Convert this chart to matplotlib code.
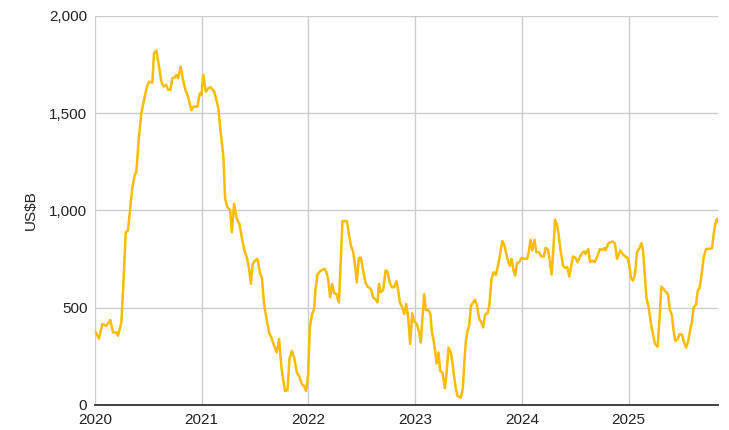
import matplotlib.pyplot as plt
import matplotlib.ticker as mticker

# time as fractional years since 2020, values in US$B
years_since_2020 = [
    0.007, 0.037, 0.068, 0.106, 0.143, 0.169, 0.200, 0.216, 0.247, 0.269,
    0.288, 0.309, 0.331, 0.350, 0.372, 0.387, 0.412, 0.434, 0.466, 0.487,
    0.506, 0.537, 0.553, 0.575, 0.600, 0.622, 0.644, 0.668, 0.684, 0.706,
    0.725, 0.747, 0.762, 0.778, 0.803, 0.825, 0.847, 0.872, 0.903, 0.925,
    0.959, 0.982, 0.997, 1.015, 1.038, 1.062, 1.085, 1.116, 1.134, 1.156,
    1.172, 1.203, 1.219, 1.240, 1.266, 1.282, 1.303, 1.328, 1.353, 1.375,
    1.400, 1.422, 1.444, 1.460, 1.478, 1.500, 1.522, 1.547, 1.563, 1.584,
    1.610, 1.631, 1.657, 1.678, 1.703, 1.725, 1.747, 1.765, 1.781, 1.803,
    1.822, 1.844, 1.866, 1.891, 1.912, 1.938, 1.959, 1.978, 1.997, 2.013,
    2.034, 2.053, 2.065, 2.084, 2.107, 2.128, 2.153, 2.168, 2.184, 2.203,
    2.222, 2.241, 2.262, 2.285, 2.303, 2.318, 2.341, 2.360, 2.378, 2.397,
    2.419, 2.435, 2.453, 2.472, 2.491, 2.512, 2.534, 2.553, 2.575, 2.590,
    2.606, 2.632, 2.647, 2.660, 2.678, 2.700, 2.722, 2.740, 2.763, 2.784,
    2.803, 2.825, 2.841, 2.856, 2.878, 2.897, 2.916, 2.934, 2.953, 2.972,
    2.991, 3.016, 3.037, 3.053, 3.068, 3.084, 3.100, 3.122, 3.141, 3.157,
    3.172, 3.187, 3.200, 3.218, 3.234, 3.256, 3.278, 3.293, 3.312, 3.335,
    3.350, 3.366, 3.382, 3.396, 3.412, 3.428, 3.447, 3.459, 3.475, 3.490,
    3.506, 3.522, 3.537, 3.560, 3.578, 3.600, 3.616, 3.637, 3.656, 3.678,
    3.694, 3.715, 3.734, 3.756, 3.772, 3.787, 3.803, 3.818, 3.834, 3.853,
    3.872, 3.888, 3.903, 3.921, 3.937, 3.953, 3.975, 3.997, 4.022, 4.050,
    4.066, 4.081, 4.097, 4.118, 4.134, 4.160, 4.181, 4.206, 4.222, 4.244,
    4.259, 4.278, 4.294, 4.310, 4.331, 4.347, 4.362, 4.385, 4.403, 4.425,
    4.444, 4.460, 4.478, 4.503, 4.519, 4.540, 4.559, 4.581, 4.596, 4.622,
    4.638, 4.659, 4.681, 4.706, 4.731, 4.753, 4.772, 4.784, 4.807, 4.831,
    4.853, 4.872, 4.891, 4.910, 4.922, 4.947, 4.969, 4.990, 5.009, 5.022,
    5.041, 5.060, 5.078, 5.103, 5.119, 5.135, 5.150, 5.166, 5.187, 5.210,
    5.228, 5.247, 5.271, 5.290, 5.306, 5.328, 5.350, 5.369, 5.384, 5.406,
    5.421, 5.437, 5.459, 5.478, 5.500, 5.515, 5.538, 5.557, 5.578, 5.594,
    5.609, 5.631, 5.647, 5.665, 5.688, 5.703, 5.725, 5.750, 5.781, 5.797,
    5.812, 5.828, 5.837,
]
values = [
    373, 340, 416, 407, 437, 373, 373, 356, 424, 656,
    888, 897, 1017, 1120, 1180, 1197, 1378, 1498, 1584, 1636,
    1661, 1656, 1808, 1821, 1739, 1661, 1636, 1644, 1619, 1619,
    1679, 1682, 1696, 1679, 1739, 1670, 1619, 1584, 1515, 1533,
    1533, 1601, 1593, 1696, 1610, 1627, 1632, 1610, 1576, 1524,
    1429, 1275, 1060, 1017, 1000, 888, 1034, 957, 931, 862,
    794, 759, 699, 622, 725, 742, 751, 674, 656, 519,
    433, 373, 339, 304, 270, 339, 192, 124, 72, 76,
    236, 278, 244, 167, 150, 107, 98, 72, 158, 399,
    467, 493, 588, 670, 687, 694, 699, 682, 648, 553,
    622, 574, 570, 527, 742, 945, 945, 945, 880, 820,
    785, 725, 630, 756, 756, 691, 630, 608, 601, 588,
    553, 540, 527, 622, 579, 591, 691, 687, 625, 605,
    605, 636, 588, 527, 502, 467, 519, 450, 313, 471,
    429, 416, 373, 321, 450, 570, 488, 488, 471, 373,
    333, 278, 213, 270, 175, 167, 86, 158, 295, 270,
    210, 141, 81, 46, 43, 38, 89, 210, 330, 381,
    407, 510, 522, 540, 515, 442, 429, 399, 467, 471,
    510, 648, 682, 668, 708, 746, 802, 842, 825, 777,
    734, 716, 751, 691, 665, 728, 734, 756, 751, 751,
    794, 849, 794, 849, 785, 785, 763, 763, 808, 797,
    751, 670, 794, 952, 923, 862, 794, 716, 705, 708,
    660, 708, 763, 756, 734, 756, 777, 789, 777, 801,
    734, 742, 734, 763, 802, 797, 806, 794, 828, 837,
    840, 828, 751, 777, 794, 773, 763, 756, 708, 653,
    639, 674, 785, 808, 832, 794, 674, 553, 502, 416,
    364, 313, 299, 450, 608, 596, 579, 570, 493, 459,
    381, 330, 339, 364, 361, 330, 295, 326, 390, 433,
    502, 515, 588, 601, 691, 759, 802, 802, 806, 880,
    931, 957, 940,
]
year_ticks = [2020, 2021, 2022, 2023, 2024, 2025]
y_ticks = [0, 500, 1000, 1500, 2000]

plt.rcParams['font.family'] = ['Liberation Sans', 'DejaVu Sans']

x = [2020 + t for t in years_since_2020]

fig = plt.figure(figsize=(7.29, 4.30), dpi=100)
ax = fig.add_axes([95 / 729, 1 - 405 / 430, 623 / 729, 389.3 / 430])

ax.plot(x, values, color='#FBBC04', linewidth=1.8, solid_joinstyle='round', zorder=3)

ax.set_xlim(2020, x[-1])
ax.set_ylim(0, 2000)
ax.set_xticks(year_ticks)
ax.set_xticklabels([str(y) for y in year_ticks])
ax.set_yticks(y_ticks)
ax.yaxis.set_major_formatter(mticker.StrMethodFormatter('{x:,.0f}'))

ax.grid(True, color='#cccccc', linewidth=1.0, zorder=0)
for side in ['top', 'right', 'left']:
    ax.spines[side].set_visible(False)
ax.spines['bottom'].set_color('#333333')
ax.spines['bottom'].set_linewidth(1.3)
ax.spines['bottom'].set_zorder(4)
ax.tick_params(length=0, labelsize=11, colors='#222222')
ax.tick_params(axis='x', pad=6)
ax.tick_params(axis='y', pad=5.5)

ax.set_ylabel('US$B', fontsize=11, color='#222222')
ax.yaxis.set_label_coords(-0.091, 0.5)

fig.savefig('out.png', dpi=100)
